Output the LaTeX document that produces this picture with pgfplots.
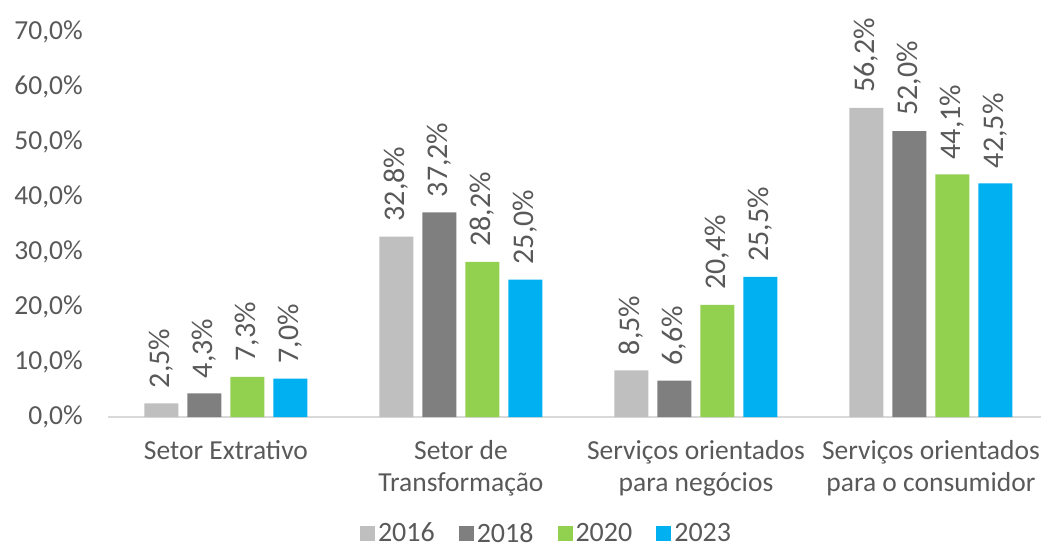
\documentclass[border=0pt]{standalone}
\usepackage{fontspec}
\setmainfont{Carlito}
\usepackage{pgfplots}
\pgfplotsset{compat=1.18}
\definecolor{c2016}{HTML}{BFBFBF}
\definecolor{c2018}{HTML}{7F7F7F}
\definecolor{c2020}{HTML}{92D050}
\definecolor{c2023}{HTML}{00B0F0}
\definecolor{txt}{HTML}{595959}
\definecolor{baseln}{HTML}{D9D9D9}

\begin{document}
\begin{tikzpicture}
\path[use as bounding box] (0,0) rectangle (1041pt,550pt);
\begin{axis}[
  at={(108pt,133pt)}, anchor=south west,
  scale only axis, width=940pt, height=385pt,
  xmin=-0.502, xmax=3.498, ymin=0, ymax=70,
  ybar=9pt, bar width=34pt,
  axis x line*=bottom, axis y line*=left,
  x axis line style={draw=baseln, line width=1.5pt},
  y axis line style={draw=none},
  major tick length=0pt,
  xtick={0,1,2,3},
  xticklabels={Setor Extrativo, Setor de\\Transformação, Serviços orientados\\para negócios, Serviços orientados\\para o consumidor},
  ytick={0,10,...,70},
  yticklabel={\pgfmathprintnumber{\tick}\%},
  /pgf/number format/.cd, fixed, fixed zerofill, precision=1, use comma, assume math mode=true,
  /pgfplots/.cd,
  tick label style={font=\fontsize{27.5}{32}\selectfont, text=txt},
  xticklabel style={align=center, anchor=north, inner sep=0pt, yshift=-23pt},
  yticklabel style={anchor=east, inner sep=0pt, xshift=-25pt},
  nodes near coords={\pgfmathprintnumber{\pgfplotspointmeta}\%},
  every node near coord/.append style={rotate=90, anchor=west, font=\fontsize{30}{34}\selectfont, text=txt, inner sep=0pt, xshift=15pt},
  legend columns=4,
  legend style={at={(0.466,-0.302)}, anchor=center, draw=none, fill=none,
    font=\fontsize{28}{32}\selectfont, text=txt, inner sep=0pt,
    nodes={inner sep=1pt},
    /tikz/every even column/.append style={column sep=23pt}},
  legend image code/.code={\fill[#1] (0pt,-7.5pt) rectangle (15pt,7.5pt); \path (17pt,0pt);},
]
\addplot[draw=none, fill=c2016] coordinates {(0,2.5) (1,32.8) (2,8.5) (3,56.2)};
\addlegendentry{2016}
\addplot[draw=none, fill=c2018] coordinates {(0,4.3) (1,37.2) (2,6.6) (3,52.0)};
\addlegendentry{2018}
\addplot[draw=none, fill=c2020] coordinates {(0,7.3) (1,28.2) (2,20.4) (3,44.1)};
\addlegendentry{2020}
\addplot[draw=none, fill=c2023] coordinates {(0,7.0) (1,25.0) (2,25.5) (3,42.5)};
\addlegendentry{2023}
\end{axis}
\end{tikzpicture}
\end{document}
